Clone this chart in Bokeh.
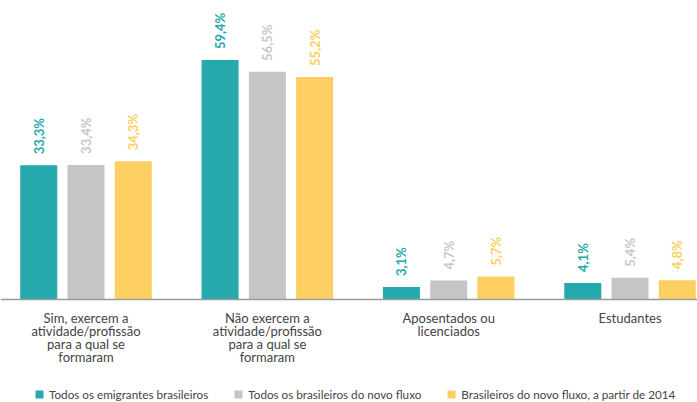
from bokeh.plotting import figure
from bokeh.models import ColumnDataSource, Range1d, Legend, LegendItem, Span
from bokeh.transform import dodge
from bokeh.core.properties import value
from bokeh.embed import file_html
from bokeh.resources import INLINE

# ---- data ----
categories = [
    "Sim, exercem a\natividade/profissão\npara a qual se\nformaram",
    "Não exercem a\natividade/profissão\npara a qual se\nformaram",
    "Aposentados ou\nlicenciados",
    "Estudantes",
]
series_names = [
    "Todos os emigrantes brasileiros",
    "Todos os brasileiros do novo fluxo",
    "Brasileiros do novo fluxo, a partir de 2014",
]
todos_emigrantes = [33.3, 59.4, 3.1, 4.1]
novo_fluxo = [33.4, 56.5, 4.7, 5.4]
novo_fluxo_2014 = [34.3, 55.2, 5.7, 4.8]

bar_colors = ["#25A9AD", "#C5C5C5", "#FDCF62"]
label_colors = ["#25A9AD", "#C8C8C8", "#FDCF62"]

def fmt(v):
    return f"{v:.1f}".replace(".", ",") + "%"

idx = list(range(len(categories)))
src = ColumnDataSource(data=dict(
    x=idx, cat=categories, zero=[0] * len(categories),
    s0=todos_emigrantes, s1=novo_fluxo, s2=novo_fluxo_2014,
    l0=[fmt(v) for v in todos_emigrantes],
    l1=[fmt(v) for v in novo_fluxo],
    l2=[fmt(v) for v in novo_fluxo_2014],
))

p = figure(width=697, height=402, output_backend="svg", toolbar_location=None,
           x_range=Range1d(-0.4715, 3.372), y_range=Range1d(-25.56, 74.19),
           x_axis_location=None, y_axis_location=None,
           min_border_left=0, min_border_right=0, min_border_top=0, min_border_bottom=0)
p.outline_line_color = None
p.xgrid.visible = False
p.ygrid.visible = False

offsets = [-0.2606, 0.0, 0.2606]
bar_w = 0.204
renderers = []
for i in range(3):
    r = p.vbar(x=dodge("x", offsets[i], range=p.x_range), top=f"s{i}", width=bar_w, bottom=0,
               source=src, fill_color=bar_colors[i], line_color=None)
    renderers.append(r)
    p.text(x=dodge("x", offsets[i], range=p.x_range), y=f"s{i}", text=f"l{i}", source=src,
           angle=1.5708, text_align="left", text_baseline="middle", y_offset=-11,
           text_font=value("Lato"), text_font_style="bold", text_font_size="13px",
           text_color=label_colors[i])

# baseline (x axis line)
p.add_layout(Span(location=0, dimension="width", line_color="#9A9A9A", line_width=1.5))

# category labels under the baseline
p.text(x="x", y="zero", text="cat", source=src, text_align="center", text_baseline="top",
       y_offset=11, text_font=value("Lato"), text_font_size="13px", text_color="#444444",
       text_line_height=0.8)

legend = Legend(items=[LegendItem(label=series_names[i], renderers=[renderers[i]]) for i in range(3)],
                location=(34, 1), orientation="horizontal",
                glyph_width=10, glyph_height=10, label_standoff=5, spacing=25,
                padding=0, margin=0, border_line_color=None, background_fill_alpha=0,
                label_text_font="Lato", label_text_font_size="11.7px", label_text_color="#444444",
                label_height=10)
p.add_layout(legend, "center")

open("out.html", "w").write(file_html(p, INLINE))
